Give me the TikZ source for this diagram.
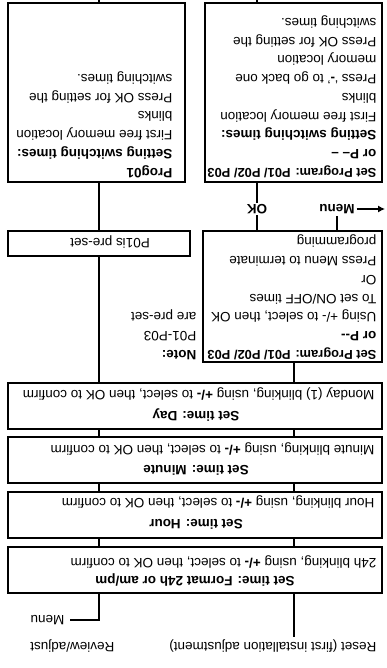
\documentclass[tikz,border=0pt]{standalone}
\usepackage{fontspec}
\setmainfont{Liberation Sans}
\usetikzlibrary{arrows.meta}

\newcommand{\dsize}{\fontsize{13.5}{18.7}\selectfont}
\newcommand{\progline}{{\fontsize{12.9}{18.7}\selectfont\bfseries Set Program: P01/ P02/ P03}}

\begin{document}
\begin{tikzpicture}[x=1pt, y=1pt, rotate=180, transform shape,
		every node/.style={font=\dsize, inner sep=0pt},
		box/.style={draw, line width=1.4pt},
		ttl/.style={font=\dsize\bfseries, anchor=base},
		txt/.style={anchor=base west},
		multi/.style={align=left, anchor=north west},
		line width=1.1pt, >={Latex[length=7pt,width=7pt]}]
	\useasboundingbox (0,0) rectangle (386,668);

	% column positions of the connectors
	\coordinate (lcol) at (92,0);
	\coordinate (okcol) at (129,0);
	\coordinate (rcol) at (287,0);

	% entry points
	\node[txt, inner ysep=2pt] (reset) at (9,642) {Reset (first installation adjustment)};
	\node[txt] (review) at (271,642) {Review/adjust};
	\node[anchor=west, inner xsep=5pt] (menuin) at (316,620) {Menu};

	% time setting steps
	\node[box, minimum width=374pt, minimum height=46pt] (fmt) at (191,570) {};
	\node[ttl] at (191,576) {Set time: Format 24h or am/pm};
	\node[txt] at (9,558) {24h blinking, using \textbf{+/-} to select, then OK to confirm};

	\node[box, minimum width=374pt, minimum height=46pt] (hour) at (191,515) {};
	\node[ttl] at (190,519) {Set time: Hour};
	\node[txt] at (11,498) {Hour blinking, using \textbf{+/-} to select, then OK to confirm};

	\node[box, minimum width=374pt, minimum height=46pt] (minute) at (191,460) {};
	\node[ttl] at (190,465) {Set time: Minute};
	\node[txt] at (11,445) {Minute blinking, using \textbf{+/-} to select, then OK to confirm};

	\node[box, minimum width=374pt, minimum height=46pt] (day) at (191,406) {};
	\node[ttl] at (190,411) {Set time: Day};
	\node[txt] at (11,390) {Monday (1) blinking, using \textbf{+/-} to select, then OK to confirm};

	% programs
	\node[box, minimum width=179pt, minimum height=131pt] (setprog) at (93.5,296.5) {};
	\node[multi] at (9,360) {\progline\\
		\textbf{or P-{}-}\\
		Using +/- to select, then OK\\
		To set ON/OFF times\\
		Or\\
		Press Menu to terminate\\
		programming};
	\node[multi] (note) at (189,360) {\textbf{Note:}\\ P01-P03\\ are pre-set};

	\node[box, minimum width=182pt, minimum height=25pt] (preset) at (287,243.5) {};
	\node[anchor=base] at (276,238.5) {P01is pre-set};

	\node[font=\dsize\bfseries, inner sep=1.5pt] (menuout) at (49,209) {Menu};
	\coordinate (menuend) at (1,209);

	% switching times
	\node[box, minimum width=177pt, minimum height=179pt] (setsw) at (92.5,92.5) {};
	\node[multi] at (9,178) {\progline\\
		\textbf{or P-- --}\\
		\textbf{Setting switching times:}\\
		First free memory location\\
		blinks\\
		Press `\textbf{-}' to go back one\\
		memory location\\
		Press OK for setting the\\
		switching times.};

	\node[box, minimum width=177pt, minimum height=179pt] (prog) at (289.5,92.5) {};
	\node[multi] at (213,178) {\textbf{Prog01}\\
		\textbf{Setting switching times:}\\
		First free memory location\\
		blinks\\
		Press OK for setting the\\
		switching times.};

	% connectors
	\draw (reset.south -| lcol) -- (fmt.north -| lcol);
	\draw (fmt.north -| rcol) |- (menuin.west);
	\draw (fmt.south -| lcol) -- (hour.north -| lcol);
	\draw (fmt.south -| rcol) -- (hour.north -| rcol);
	\draw (hour.south -| lcol) -- (minute.north -| lcol);
	\draw (hour.south -| rcol) -- (minute.north -| rcol);
	\draw (minute.south -| lcol) -- (day.north -| lcol);
	\draw (minute.south -| rcol) -- (day.north -| rcol);
	\draw (day.south -| lcol) -- (setprog.north -| lcol);
	\draw (day.south -| rcol) -- (preset.north -| rcol);
	\draw (preset.south -| rcol) -- (prog.north -| rcol);
	\draw (setprog.south -| okcol) -- node[font=\dsize\bfseries, fill=white, inner sep=1.5pt, pos=0.45] {OK} (setsw.north -| okcol);
	\draw (setprog.south -| menuout) -- (menuout.north);
	\draw[->] (menuout.west) -- (menuend);
	\draw (setsw.south -| okcol) -- (okcol);
	\draw (prog.south -| rcol) -- (rcol);
\end{tikzpicture}
\end{document}
